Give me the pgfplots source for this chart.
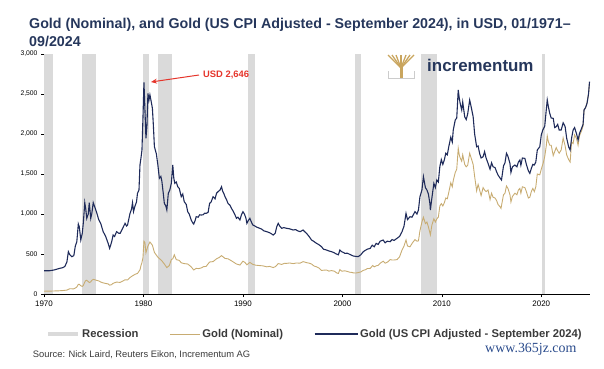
\documentclass[border=0pt]{standalone}
\usepackage{pgfplots}
\pgfplotsset{compat=1.18}
\usepackage{fontspec}
\setmainfont{Liberation Sans}
\newfontfamily\wmfont{Liberation Serif}
\usetikzlibrary{arrows.meta}
\definecolor{navyline}{HTML}{1F2B5A}
\definecolor{tanline}{HTML}{C8AC72}
\definecolor{recgray}{HTML}{DADADA}
\definecolor{titlecol}{HTML}{26375C}
\definecolor{txtgray}{HTML}{3A3A3A}
\definecolor{annred}{HTML}{E5352B}
\definecolor{wmblue}{HTML}{2A4B8C}
\definecolor{logogold}{HTML}{C9A55E}
\pgfplotsset{longlegend/.style={legend image code/.code={\draw[##1] (0bp,0bp) -- (43bp,0bp);}}}
\begin{document}
\begin{tikzpicture}[x=1bp,y=1bp]
\useasboundingbox (0,0) rectangle (604,368);
\node[anchor=base west, inner sep=0, text=titlecol, font=\bfseries\fontsize{14.3}{17}\selectfont] at (29,340) {Gold (Nominal), and Gold (US CPI Adjusted - September 2024), in USD, 01/1971–};
\node[anchor=base west, inner sep=0, text=titlecol, font=\bfseries\fontsize{14.3}{17}\selectfont] at (29,322) {09/2024};
\begin{axis}[
  at={(44bp,74bp)}, anchor=south west, scale only axis,
  width=546bp, height=240bp,
  xmin=1970, xmax=2024.9, ymin=0, ymax=3000,
  axis lines*=left,
  axis line style={black, line width=0.6pt},
  xtick={1970,1980,1990,2000,2010,2020},
  ytick={0,500,1000,1500,2000,2500,3000},
  tick align=outside, major tick length=3bp,
  tick style={black, line width=0.5pt},
  /pgf/number format/assume math mode=true,
  xticklabel style={font=\fontsize{8}{9}\selectfont, text=black, /pgf/number format/1000 sep={}},
  yticklabel style={font=\fontsize{6.8}{8}\selectfont, text=black, /pgf/number format/1000 sep={,}},
  legend style={at={(0.0037,-0.1667)}, anchor=west, draw=none, fill=none, inner sep=0pt,
    font=\bfseries\fontsize{11.3}{12}\selectfont, text=txtgray,
    /tikz/every even column/.append style={column sep=29bp},
    /tikz/column 4/.append style={column sep=23bp}},
  legend columns=3,
  legend image code/.code={\draw[#1] (0bp,0bp) -- (30bp,0bp);},
]
\addplot[draw=none, fill=recgray, forget plot] coordinates {(1970.0,3000)(1970.9,3000)} \closedcycle;
\addplot[draw=none, fill=recgray, forget plot] coordinates {(1973.85,3000)(1975.2,3000)} \closedcycle;
\addplot[draw=none, fill=recgray, forget plot] coordinates {(1979.95,3000)(1980.55,3000)} \closedcycle;
\addplot[draw=none, fill=recgray, forget plot] coordinates {(1981.45,3000)(1982.85,3000)} \closedcycle;
\addplot[draw=none, fill=recgray, forget plot] coordinates {(1990.5,3000)(1991.2,3000)} \closedcycle;
\addplot[draw=none, fill=recgray, forget plot] coordinates {(2001.25,3000)(2001.92,3000)} \closedcycle;
\addplot[draw=none, fill=recgray, forget plot] coordinates {(2007.95,3000)(2009.47,3000)} \closedcycle;
\addplot[draw=none, fill=recgray, forget plot] coordinates {(2020.12,3000)(2020.42,3000)} \closedcycle;
\addlegendimage{recgray, line width=4bp}
\addlegendentry{Recession}
\addplot[tanline, line width=0.9pt, mark=none] coordinates {
(1970.0,35)(1970.5,35.5)(1971.0,37.9)(1971.5,40.1)(1971.9,43.5)(1972.1,46)(1972.3,49)(1972.45,58)(1972.6,66)(1972.8,65)
(1973.0,65)(1973.15,74)(1973.3,88)(1973.45,120)(1973.55,120)(1973.7,104)(1973.85,95)(1973.95,106)(1974.1,150)(1974.2,168)
(1974.3,172)(1974.45,155)(1974.55,143)(1974.7,151)(1974.8,170)(1974.95,183)(1975.1,178)(1975.3,170)(1975.5,164)(1975.7,150)
(1975.95,139)(1976.2,132)(1976.45,126)(1976.6,110)(1976.8,117)(1976.95,134)(1977.3,149)(1977.65,145)(1977.9,160)(1978.15,178)
(1978.4,175)(1978.65,206)(1978.9,227)(1979.15,246)(1979.4,257)(1979.65,302)(1979.75,355)(1979.85,392)(1979.95,456)(1980.05,660)
(1980.15,640)(1980.25,515)(1980.45,600)(1980.65,650)(1980.9,610)(1981.1,520)(1981.45,460)(1981.85,415)(1982.1,375)(1982.35,330)
(1982.6,355)(1982.8,430)(1982.95,440)(1983.1,490)(1983.3,430)(1983.6,420)(1983.8,390)(1984.1,380)(1984.45,375)(1984.8,340)
(1985.05,300)(1985.3,320)(1985.55,318)(1985.8,325)(1986.05,342)(1986.3,345)(1986.65,400)(1987.0,405)(1987.35,440)(1987.6,455)
(1987.85,480)(1988.2,445)(1988.5,440)(1988.85,415)(1989.1,395)(1989.35,375)(1989.7,362)(1990.0,410)(1990.2,395)(1990.4,365)
(1990.7,395)(1991.0,370)(1991.3,360)(1991.7,355)(1992.0,352)(1992.4,340)(1992.7,345)(1993.05,330)(1993.3,345)(1993.55,380)
(1993.9,370)(1994.2,384)(1994.4,383)(1994.7,388)(1995.05,380)(1995.4,388)(1995.75,385)(1996.05,405)(1996.4,392)(1996.65,386)
(1996.9,375)(1997.15,350)(1997.4,340)(1997.65,324)(1997.9,295)(1998.15,298)(1998.4,300)(1998.65,286)(1998.9,293)(1999.2,285)
(1999.45,262)(1999.6,257)(1999.75,305)(1999.95,285)(2000.25,290)(2000.5,282)(2000.75,272)(2000.95,270)(2001.1,264)(2001.35,262)
(2001.6,268)(2001.85,276)(2002.1,295)(2002.35,305)(2002.5,318)(2002.8,320)(2003.05,356)(2003.2,340)(2003.4,352)(2003.6,358)
(2003.8,385)(2004.1,410)(2004.3,385)(2004.55,400)(2004.8,430)(2005.0,425)(2005.2,425)(2005.5,430)(2005.75,465)(2006.0,550)
(2006.2,600)(2006.4,676)(2006.55,600)(2006.8,590)(2007.05,640)(2007.3,680)(2007.5,660)(2007.65,665)(2007.8,790)(2008.0,900)
(2008.15,960)(2008.35,880)(2008.5,900)(2008.65,840)(2008.85,740)(2009.0,860)(2009.2,940)(2009.35,900)(2009.5,940)(2009.65,960)
(2009.8,1100)(2009.95,1130)(2010.1,1100)(2010.25,1140)(2010.4,1200)(2010.55,1190)(2010.7,1270)(2010.9,1390)(2011.05,1340)(2011.15,1420)
(2011.35,1520)(2011.5,1560)(2011.65,1821)(2011.75,1740)(2011.85,1700)(2012.0,1660)(2012.1,1740)(2012.3,1620)(2012.45,1590)(2012.6,1610)
(2012.8,1760)(2012.95,1700)(2013.15,1620)(2013.3,1470)(2013.5,1290)(2013.65,1370)(2013.8,1300)(2013.95,1230)(2014.15,1330)(2014.3,1300)
(2014.45,1280)(2014.65,1300)(2014.85,1180)(2015.0,1260)(2015.15,1210)(2015.35,1200)(2015.5,1170)(2015.65,1120)(2015.85,1090)(2015.95,1070)
(2016.2,1240)(2016.35,1260)(2016.5,1350)(2016.65,1320)(2016.85,1240)(2016.95,1150)(2017.1,1220)(2017.35,1260)(2017.55,1240)(2017.7,1300)
(2017.85,1320)(2017.95,1260)(2018.1,1340)(2018.35,1330)(2018.5,1280)(2018.7,1200)(2018.85,1210)(2019.0,1280)(2019.15,1320)(2019.3,1280)
(2019.45,1340)(2019.6,1500)(2019.85,1490)(2020.0,1560)(2020.2,1640)(2020.35,1720)(2020.5,1850)(2020.6,1975)(2020.7,1910)(2020.85,1860)
(2021.0,1860)(2021.2,1730)(2021.35,1780)(2021.5,1830)(2021.65,1790)(2021.8,1760)(2022.0,1800)(2022.2,1950)(2022.4,1850)(2022.55,1740)
(2022.75,1680)(2022.9,1650)(2023.05,1900)(2023.2,1880)(2023.35,1990)(2023.55,1940)(2023.7,1860)(2023.85,1980)(2024.05,2040)(2024.2,2100)
(2024.3,2300)(2024.45,2330)(2024.6,2390)(2024.75,2500)(2024.85,2640)
};
\addlegendentry{Gold (Nominal)}
\addplot[navyline, line width=1.1pt, mark=none, longlegend] coordinates {
(1970.0,291)(1970.5,290)(1971.0,300)(1971.5,318)(1971.9,330)(1972.1,345)(1972.3,400)(1972.45,529)(1972.6,490)(1972.8,466)
(1973.0,480)(1973.15,600)(1973.3,654)(1973.45,875)(1973.55,840)(1973.7,675)(1973.85,760)(1973.95,883)(1974.1,1141)(1974.2,1060)
(1974.3,946)(1974.45,1000)(1974.55,1141)(1974.7,946)(1974.8,1000)(1974.95,1141)(1975.1,1090)(1975.3,1016)(1975.5,930)(1975.7,883)
(1975.95,779)(1976.2,720)(1976.45,633)(1976.6,571)(1976.8,650)(1976.95,737)(1977.1,720)(1977.3,779)(1977.5,760)(1977.65,758)
(1977.9,820)(1978.15,883)(1978.3,850)(1978.4,862)(1978.55,950)(1978.65,1008)(1978.8,1060)(1978.9,1141)(1979.0,1030)(1979.15,1100)
(1979.3,1150)(1979.4,1258)(1979.55,1300)(1979.65,1612)(1979.75,1700)(1979.85,1800)(1979.95,2200)(1980.05,2646)(1980.15,2300)(1980.25,1946)
(1980.35,2100)(1980.45,2508)(1980.55,2420)(1980.65,2490)(1980.75,2425)(1980.9,2321)(1981.0,2100)(1981.1,1842)(1981.3,1750)(1981.45,1612)
(1981.6,1446)(1981.75,1470)(1981.85,1412)(1982.0,1250)(1982.1,1133)(1982.25,1100)(1982.35,1050)(1982.5,1258)(1982.65,1300)(1982.8,1383)
(1982.95,1612)(1983.05,1450)(1983.15,1383)(1983.3,1400)(1983.45,1341)(1983.6,1320)(1983.8,1216)(1983.95,1250)(1984.1,1154)(1984.3,1120)
(1984.45,1029)(1984.6,1000)(1984.8,925)(1984.95,890)(1985.05,874)(1985.2,920)(1985.3,966)(1985.5,960)(1985.65,990)(1985.8,987)
(1986.0,990)(1986.15,1010)(1986.3,1008)(1986.5,1020)(1986.65,1133)(1986.8,1150)(1987.0,1216)(1987.2,1190)(1987.35,1260)(1987.5,1279)
(1987.7,1300)(1987.85,1341)(1987.95,1290)(1988.1,1250)(1988.2,1216)(1988.35,1180)(1988.5,1133)(1988.7,1110)(1988.85,1070)(1989.0,1040)
(1989.2,990)(1989.35,946)(1989.5,960)(1989.7,925)(1989.85,990)(1990.0,1029)(1990.15,1000)(1990.3,950)(1990.4,883)(1990.55,920)
(1990.7,946)(1990.85,900)(1991.0,862)(1991.2,850)(1991.4,835)(1991.7,821)(1991.9,810)(1992.1,790)(1992.4,779)(1992.7,765)
(1992.9,750)(1993.05,737)(1993.25,760)(1993.4,840)(1993.55,883)(1993.7,850)(1993.9,821)(1994.1,830)(1994.4,821)(1994.7,815)
(1995.05,800)(1995.3,805)(1995.5,790)(1995.75,779)(1996.05,800)(1996.2,780)(1996.4,758)(1996.65,720)(1996.9,675)(1997.1,660)
(1997.4,633)(1997.6,620)(1997.9,592)(1998.1,560)(1998.4,550)(1998.6,540)(1998.9,529)(1999.1,520)(1999.4,500)(1999.6,490)
(1999.75,550)(1999.9,530)(2000.1,520)(2000.25,508)(2000.5,510)(2000.75,495)(2001.1,475)(2001.35,470)(2001.6,467)(2001.85,490)
(2002.1,529)(2002.3,545)(2002.5,560)(2002.8,571)(2003.0,610)(2003.2,590)(2003.4,633)(2003.6,620)(2003.8,660)(2004.1,675)
(2004.3,640)(2004.5,660)(2004.8,654)(2005.0,680)(2005.2,670)(2005.5,696)(2005.75,720)(2006.0,779)(2006.2,850)(2006.4,1008)
(2006.55,930)(2006.8,966)(2007.0,960)(2007.3,1029)(2007.5,1000)(2007.65,1050)(2007.8,1216)(2008.0,1300)(2008.15,1466)(2008.35,1330)
(2008.5,1300)(2008.65,1250)(2008.8,1133)(2008.85,1050)(2009.0,1200)(2009.2,1383)(2009.35,1330)(2009.5,1425)(2009.65,1400)(2009.8,1591)
(2009.95,1680)(2010.1,1620)(2010.25,1675)(2010.4,1760)(2010.55,1740)(2010.7,1841)(2010.9,1960)(2011.05,1900)(2011.15,2050)(2011.35,2175)
(2011.5,2200)(2011.65,2550)(2011.75,2450)(2011.85,2380)(2012.0,2300)(2012.1,2400)(2012.3,2216)(2012.45,2180)(2012.6,2250)(2012.8,2425)
(2012.95,2340)(2013.15,2216)(2013.3,2000)(2013.5,1841)(2013.65,1850)(2013.8,1758)(2013.95,1700)(2014.15,1716)(2014.3,1780)(2014.45,1700)
(2014.65,1633)(2014.85,1560)(2015.0,1640)(2015.15,1591)(2015.35,1580)(2015.5,1530)(2015.65,1487)(2015.85,1450)(2016.0,1425)(2016.2,1600)
(2016.35,1640)(2016.5,1758)(2016.65,1720)(2016.85,1633)(2016.95,1520)(2017.1,1590)(2017.35,1612)(2017.55,1590)(2017.7,1650)(2017.85,1675)
(2017.95,1610)(2018.1,1700)(2018.35,1695)(2018.5,1620)(2018.7,1540)(2018.85,1508)(2019.0,1570)(2019.15,1620)(2019.3,1612)(2019.45,1650)
(2019.6,1800)(2019.85,1841)(2020.0,1987)(2020.15,2050)(2020.35,2100)(2020.5,2300)(2020.6,2425)(2020.7,2350)(2020.85,2258)(2021.0,2200)
(2021.2,2196)(2021.35,2080)(2021.5,2091)(2021.65,2120)(2021.8,2050)(2022.0,2050)(2022.2,2140)(2022.4,2091)(2022.55,1950)(2022.75,1840)
(2022.9,1800)(2023.05,1950)(2023.2,2050)(2023.35,2080)(2023.55,2000)(2023.7,1925)(2023.85,2010)(2024.05,2070)(2024.2,2120)(2024.3,2300)
(2024.45,2330)(2024.6,2383)(2024.75,2500)(2024.85,2654)
};
\addlegendentry{Gold (US CPI Adjusted - September 2024)}
\end{axis}
\draw[annred, line width=1pt, -{Stealth[length=6bp,width=5bp]}] (199,293) -- (151,286);
\node[anchor=west, inner sep=0, text=annred, font=\bfseries\fontsize{9.4}{11}\selectfont] at (203,293) {USD 2,646};
% logo
\fill[logogold] (399.5,290.5) rectangle (402.5,301);
\foreach \tx in {388,392,396,401,406,410,414} {\draw[logogold, line width=1.3pt] (401,300) -- (\tx,313);}
\draw[gray!40, line width=0.5pt] (388,297) -- (388,290) -- (414,290) -- (414,297);
\node[anchor=base west, inner sep=0, text=titlecol, font=\bfseries\fontsize{17}{20}\selectfont] at (427,296.3) {incrementum};
\node[anchor=base west, inner sep=0, text=txtgray, font=\fontsize{9.4}{11}\selectfont] at (32.7,11) {Source: Nick Laird, Reuters Eikon, Incrementum AG};
\node[anchor=base west, inner sep=0, text=wmblue, font=\wmfont\fontsize{14}{16}\selectfont] at (485,15.5) {www.365jz.com};
\end{tikzpicture}
\end{document}
